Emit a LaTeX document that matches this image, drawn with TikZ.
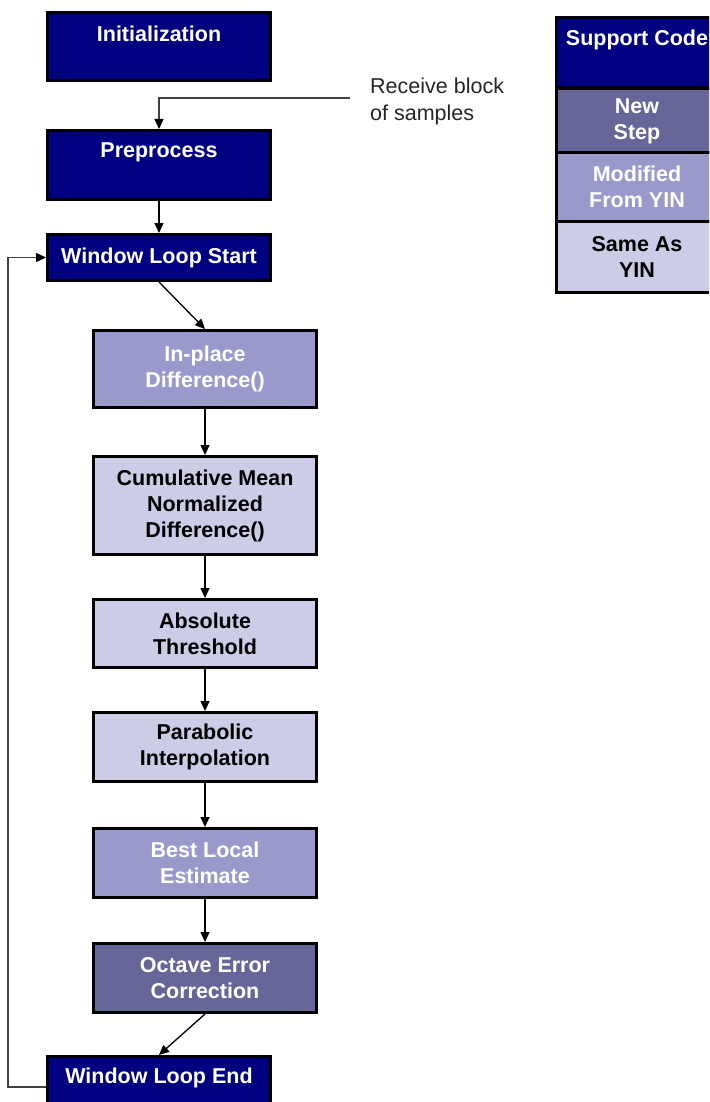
\documentclass[tikz,border=0pt]{standalone}
\usepackage{fontspec}
\setmainfont{Liberation Sans}
\usetikzlibrary{arrows.meta}
\definecolor{navyc}{RGB}{0,0,128}
\definecolor{newc}{RGB}{102,102,153}
\definecolor{modc}{RGB}{153,153,204}
\definecolor{samec}{RGB}{204,204,230}
\begin{document}
\begin{tikzpicture}[x=1pt,y=-1pt,
  box/.style={draw=black, line width=3pt, inner sep=0pt, align=center,
    font=\bfseries\fontsize{21.5}{26}\selectfont},
  outer/.style={box, minimum width=223pt},
  legbox/.style={box, minimum width=161pt},
  navybox/.style={fill=navyc, text=white},
  newbox/.style={fill=newc, text=white},
  modbox/.style={fill=modc, text=white},
  samebox/.style={fill=samec, text=black},
  lbl/.style={inner sep=0pt, align=center, text=white,
    font=\bfseries\fontsize{21.5}{26}\selectfont},
  note/.style={inner sep=0pt, align=left, text=black!85,
    font=\fontsize{21.5}{27}\selectfont},
  arr/.style={draw=black, line width=1.3pt, -{Triangle[length=10pt,width=9pt]}},
  loopline/.style={draw=black!75, line width=1.3pt, -{Triangle[length=10pt,width=9pt,color=black]}}
]
\useasboundingbox (0,0) rectangle (709,1102);
\clip (0,0) rectangle (709,1102);

% left column
\node[outer, navybox, minimum height=68pt] (init) at (159,46.5) {};
\node[lbl] (initt) at (159,34) {Initialization};
\node[outer, navybox, minimum height=69pt] (prep) at (159,165) {};
\node[lbl] (prept) at (159,152) {Preprocess};
\node[outer, navybox, minimum height=46pt] (wls) at (159,257.5) {Window Loop Start};

% inner column
\node[outer, modbox, minimum height=77pt] (inpl) at (205,369) {In-place\\Difference()};
\node[outer, samebox, minimum height=98pt] (cmnd) at (205,505.5) {Cumulative Mean\\Normalized\\Difference()};
\node[outer, samebox, minimum height=68pt] (absth) at (205,633.5) {Absolute\\Threshold};
\node[outer, samebox, minimum height=69pt] (para) at (205,747) {Parabolic\\Interpolation};
\node[outer, modbox, minimum height=69pt] (best) at (205,863) {Best Local\\Estimate};
\node[outer, newbox, minimum height=69pt] (oct) at (205,978) {Octave Error\\Correction};

\node[outer, navybox, minimum height=48pt] (wle) at (159,1080.5) {};
\node[lbl] (wlet) at (159,1078) {Window Loop End};

% legend
\node[legbox, navybox, minimum height=70pt] (lsup) at (637,53) {};
\node[lbl] (lsupt) at (637,40) {Support Code};
\node[legbox, newbox, minimum height=64pt] (lnew) at (637,121) {New\\Step};
\node[legbox, modbox, minimum height=68pt] (lmod) at (637,187) {Modified\\From YIN};
\node[legbox, samebox, minimum height=71pt] (lsame) at (637,256.5) {Same As\\YIN};

% note
\node[note, anchor=north west] (rcvt) at (370,78) {Receive block\\of samples};
\coordinate (rcv) at (350,98);
\draw[loopline] (rcv) -| (prep.north);

% connectors
\draw[arr] (prep.south) -- (wls.north);
\draw[arr] (wls.south) -- (inpl.north);
\draw[arr] (inpl.south) -- (cmnd.north);
\draw[arr] (cmnd.south) -- (absth.north);
\draw[arr] (absth.south) -- (para.north);
\draw[arr] (para.south) -- (best.north);
\draw[arr] (best.south) -- (oct.north);
\draw[arr] (oct.south) -- (wle.north);

% loop back
\coordinate (loopb) at (8,1087);
\draw[loopline] (wle.west |- loopb) -- (loopb) |- (wls.west);
\end{tikzpicture}
\end{document}
